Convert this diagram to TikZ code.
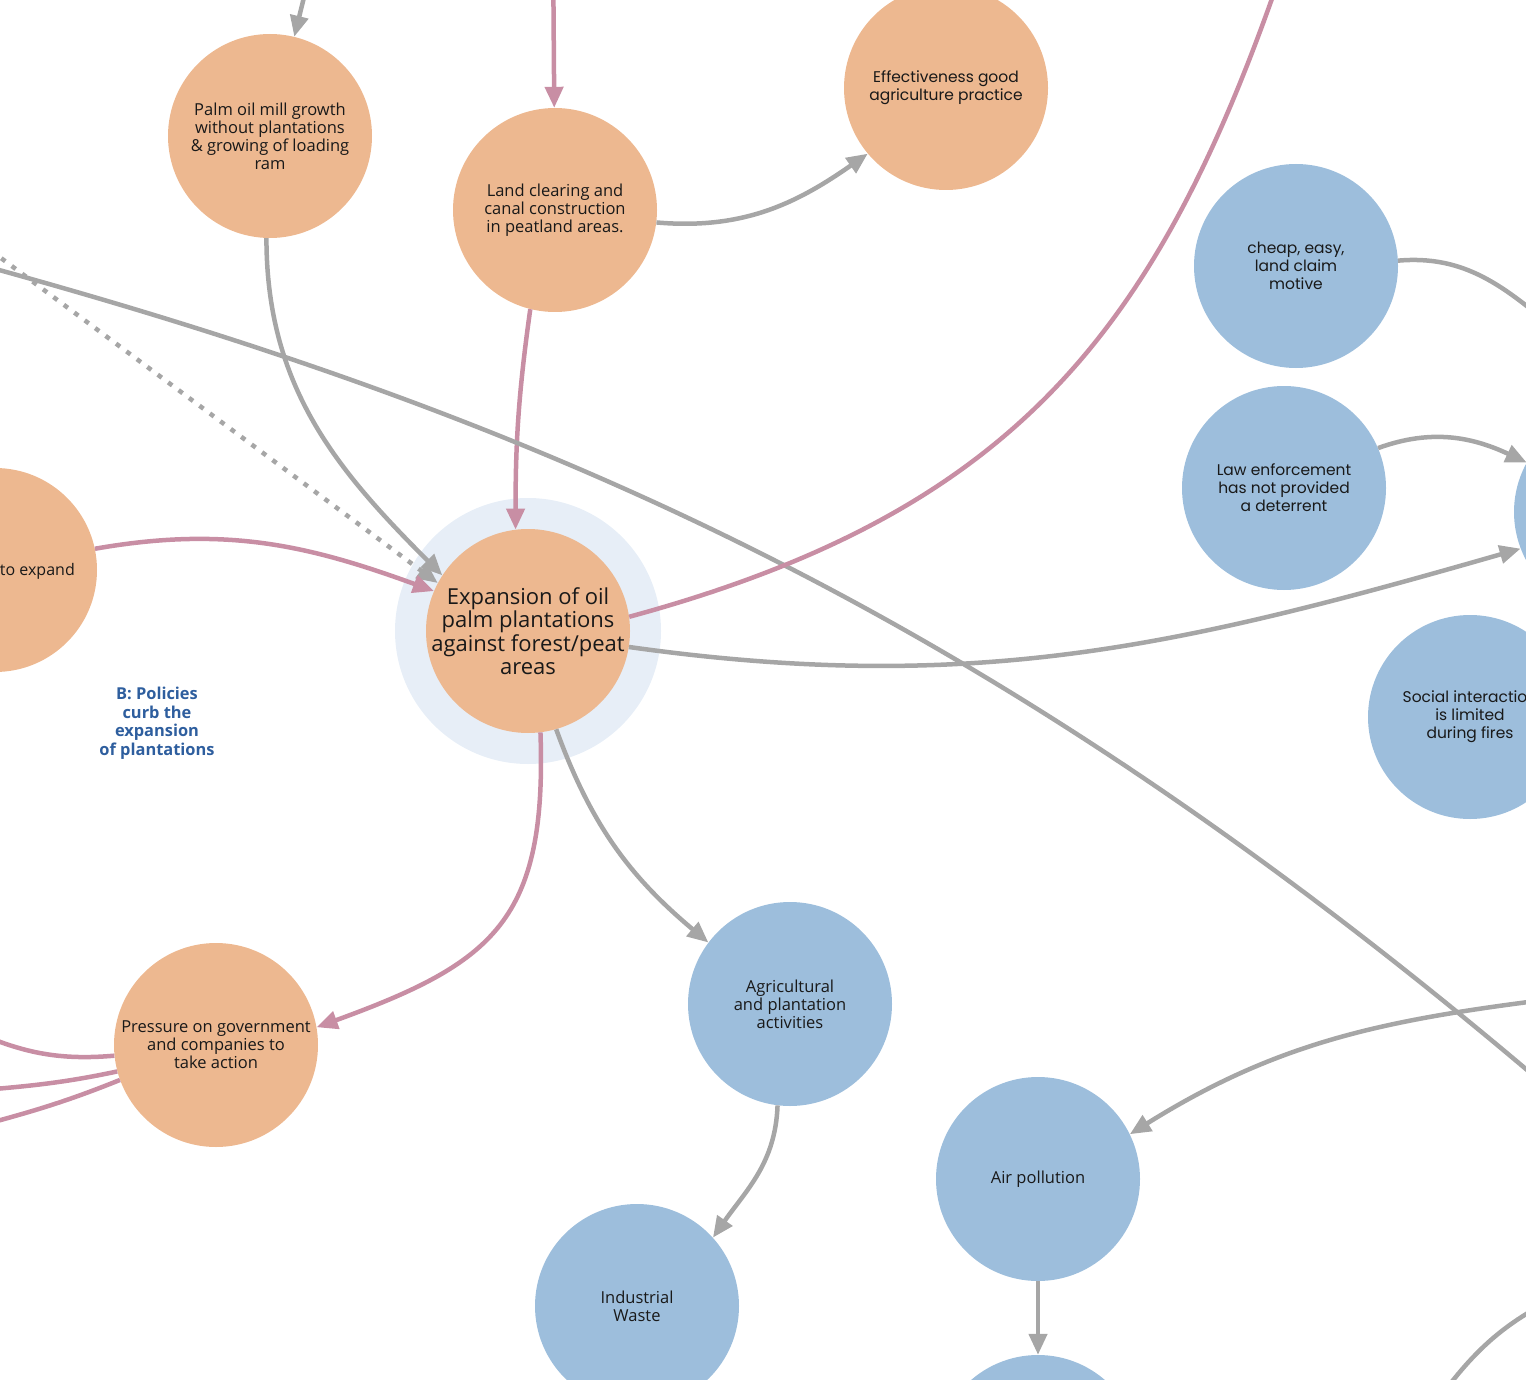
\documentclass[tikz,border=0pt]{standalone}
\usepackage{fontspec}
\setmainfont{Open Sans}
\newfontfamily\widefont{Poppins}
\usetikzlibrary{arrows.meta,positioning}
\definecolor{orangefill}{RGB}{237,184,144}
\definecolor{bluefill}{RGB}{157,190,220}
\definecolor{halofill}{RGB}{231,238,247}
\definecolor{linkgray}{RGB}{166,166,166}
\definecolor{linkpink}{RGB}{200,142,164}
\definecolor{loopblue}{RGB}{46,94,158}

\begin{document}
\begin{tikzpicture}[
    x=1pt, y=1pt,
    vnode/.style={circle, minimum size=204pt, inner sep=0pt, align=center, text=black!90, font=\fontsize{16.5}{18}\selectfont},
    orangenode/.style={vnode, fill=orangefill},
    bluenode/.style={vnode, fill=bluefill},
    wide/.style={font=\widefont\fontsize{15.5}{18}\selectfont},
    gline/.style={line width=4.5pt, draw=linkgray},
    pline/.style={line width=4.5pt, draw=linkpink},
    garrow/.style={gline, -{Triangle[length=21pt,width=18pt]}},
    parrow/.style={pline, -{Triangle[length=21pt,width=18pt]}},
    looplabel/.style={font=\bfseries\fontsize{16.4}{18.5}\selectfont, text=loopblue, align=center}
]
\clip (0,0) rectangle (1526,-1380);

% halo behind the core variable
\fill[halofill] (528,-631) circle (133);

% variables
\node[orangenode] (mill) at (270,-136) {Palm oil mill growth\\without plantations\\\& growing of loading\\ram};
\node[orangenode] (landclear) at (555,-210) {Land clearing and\\canal construction\\in peatland areas.};
\node[orangenode, wide] (effect) at (946,-88) {Effectiveness good\\agriculture practice};
\node[orangenode] (expand) at (-5,-570) {};
\node[anchor=east, inner sep=0pt, text=black!90, font=\fontsize{16}{18}\selectfont] (expandtext) at (75,-571) {to expand};
\node[orangenode, label={[font=\fontsize{22}{23.5}\selectfont, align=center, text=black!90]center:Expansion of oil\\palm plantations\\against forest/peat\\areas}] (expansion) at (528,-631) {};
\node[orangenode] (pressure) at (216,-1045) {Pressure on government\\and companies to\\take action};
\node[bluenode, wide] (cheap) at (1296,-266) {cheap, easy,\\land claim\\motive};
\node[bluenode, wide] (law) at (1284,-488) {Law enforcement\\has not provided\\a deterrent};
\node[bluenode] (rightvar) at (1616,-512) {};
\node[bluenode, wide] (social) at (1470,-717) {Social interaction\\is limited\\during fires};
\node[bluenode] (agri) at (790,-1004) {Agricultural\\and plantation\\activities};
\node[bluenode] (waste) at (637,-1306) {Industrial\\Waste};
\node[bluenode] (air) at (1038,-1179) {Air pollution};
\node[bluenode] (belowair) at (1038,-1457) {};
\node[looplabel] (loopB) at (157,-723) {B: Policies\\curb the\\expansion\\of plantations};

% ends outside the frame
\coordinate (millsrc) at (318,60);
\coordinate (clearsrc) at (553,60);
\coordinate (dotsrc) at (-30,-235);
\coordinate (longsrc) at (-30,-262);
\coordinate (longdst) at (1560,-1098);
\coordinate (pinkdst) at (1282,30);
\coordinate (cheapdst) at (1556,-330);
\coordinate (airsrc) at (1560,-998);
\coordinate (cornersrc) at (1560,-1296);
\coordinate (cornerdst) at (1420,-1425);
\coordinate (presdst1) at (-40,-1025);
\coordinate (presdst2) at (-40,-1092);
\coordinate (presdst3) at (-40,-1131);

% links
\draw[garrow] (millsrc) -- (mill);
\draw[parrow] (clearsrc) -- (landclear);
\draw[garrow] (landclear.-7) to[out=-5,in=215] (effect.220);
\draw[parrow] (landclear.256) to[out=262,in=90] (expansion.97);
\draw[garrow] (mill.268) to[out=-90,in=135] (expansion.147);
\draw[garrow, dash pattern=on 5pt off 8pt] (dotsrc) -- (expansion.152);
\draw[gline] (longsrc) .. controls (550,-420) and (1000,-618) .. (longdst);
\draw[parrow] (expand.12) to[out=10,in=160] (expansion.157);
\draw[pline] (expansion.8) .. controls (1015,-512) and (1158,-331) .. (pinkdst);
\draw[garrow] (expansion.-9) to[out=-8,in=196] (rightvar.201);
\draw[garrow] (law.23) to[out=20,in=155] (rightvar.151);
\draw[gline] (cheap.3) to[out=5,in=140] (cheapdst);
\draw[parrow] (expansion.-83) to[out=-88,in=20,looseness=1.3] (pressure.10);
\draw[garrow] (expansion.-74) to[out=-70,in=140] (agri.143);
\draw[garrow] (agri.263) to[out=-92,in=55] (waste.42);
\draw[garrow] (airsrc) to[out=187,in=32] (air.26);
\draw[garrow] (air) -- (belowair);
\draw[gline] (cornersrc) to[out=205,in=55] (cornerdst);
\draw[pline] (pressure.186) to[out=185,in=-25] (presdst1);
\draw[pline] (pressure.195) to[out=192,in=5] (presdst2);
\draw[pline] (pressure.200) to[out=202,in=15] (presdst3);
\end{tikzpicture}
\end{document}
